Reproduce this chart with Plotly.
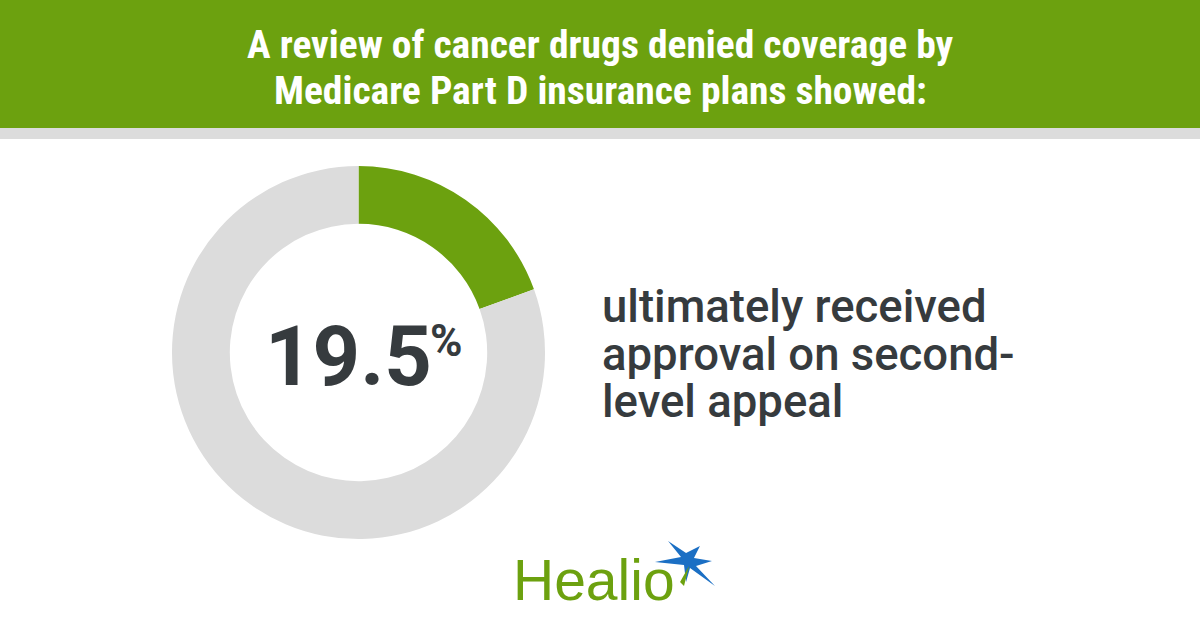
import plotly.graph_objects as go

# data
labels = ["Received approval on second-level appeal", "Other"]
values = [19.5, 80.5]
headline = "19.5"
title_lines = ["A review of cancer drugs denied coverage by",
               "Medicare Part D insurance plans showed:"]
caption_lines = ["ultimately received", "approval on second-", "level appeal"]

GREEN = "#6ca10f"
GREY = "#dcdcdc"
DARK = "#363b3e"
BLUE = "#1b6fc4"

W, H = 1200, 630

fig = go.Figure()

# donut
fig.add_trace(go.Pie(
    labels=labels,
    values=values,
    hole=0.69,
    sort=False,
    direction="clockwise",
    rotation=0,
    marker=dict(colors=[GREEN, GREY], line=dict(width=0)),
    textinfo="none",
    hoverinfo="label+percent",
    showlegend=False,
    domain=dict(x=[0.1433, 0.4542], y=[0.1444, 0.7365]),
))

# header band
fig.add_shape(type="rect", xref="paper", yref="paper",
              x0=0, x1=1, y0=1 - 128 / H, y1=1,
              fillcolor=GREEN, line_width=0, layer="below")
fig.add_shape(type="rect", xref="paper", yref="paper",
              x0=0, x1=1, y0=1 - 139 / H, y1=1 - 128 / H,
              fillcolor=GREY, line_width=0, layer="below")

title_font = dict(family="Liberation Sans Narrow, Roboto Condensed, DejaVu Sans Condensed, Roboto",
                  size=39.5, color="white", weight=700)
for line, yc in zip(title_lines, [45, 91]):
    fig.add_annotation(text=line, x=0.5, y=1 - yc / H,
                       xref="paper", yref="paper", xanchor="center", yanchor="middle",
                       showarrow=False, font=title_font)

# big number
fig.add_annotation(text=headline, x=263 / W, y=1 - 356 / H,
                   xref="paper", yref="paper", xanchor="left", yanchor="middle",
                   showarrow=False,
                   font=dict(family="Roboto", size=83, color=DARK, weight=700))
fig.add_annotation(text="%", x=428 / W, y=1 - 341 / H,
                   xref="paper", yref="paper", xanchor="left", yanchor="middle",
                   showarrow=False,
                   font=dict(family="Roboto", size=44, color=DARK, weight=700))

# caption, one annotation per line to keep the tight leading
for line, base in zip(caption_lines, [322, 369.5, 417]):
    fig.add_annotation(text=line, x=600 / W, y=1 - (base - 0.33 * 45.5) / H,
                       xref="paper", yref="paper", xanchor="left", yanchor="middle",
                       showarrow=False, align="left",
                       font=dict(family="Roboto", size=45.5, color=DARK, weight=500))

# logo
fig.add_annotation(text="Healio", x=511 / W, y=1 - 580 / H,
                   xref="paper", yref="paper", xanchor="left", yanchor="middle",
                   showarrow=False,
                   font=dict(family="Liberation Sans, Arial", size=57, color=GREEN))

def px_path(pts):
    s = "M " + " L ".join(f"{x / W:.4f},{1 - y / H:.4f}" for x, y in pts) + " Z"
    return s

star = [(668, 541), (686, 553), (700, 546), (694, 558), (712, 561),
        (696, 566), (715, 586), (690, 568), (686, 582), (684, 565), (655, 562), (681, 557)]
fig.add_shape(type="path", xref="paper", yref="paper", path=px_path(star),
              fillcolor=BLUE, line_width=0)
fig.add_shape(type="path", xref="paper", yref="paper",
              path=px_path([(689, 566), (684, 586), (680, 582)]),
              fillcolor=GREEN, line_width=0)

fig.update_layout(
    width=W, height=H,
    margin=dict(l=0, r=0, t=0, b=0),
    paper_bgcolor="white",
    plot_bgcolor="white",
)

fig.write_html("out.html", config={"displayModeBar": False},
               post_script="document.body.style.margin='0';")
